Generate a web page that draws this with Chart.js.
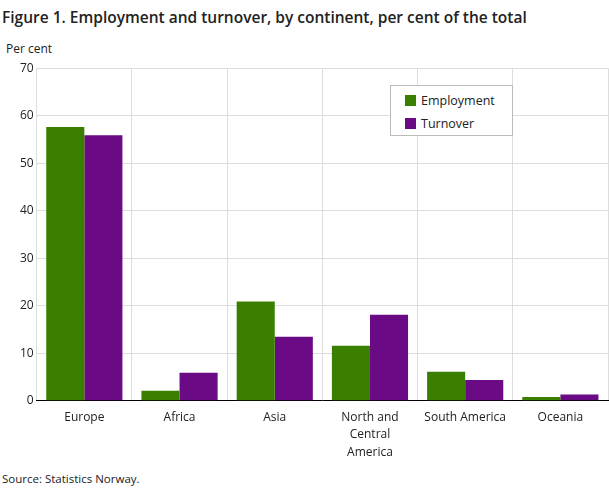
<!DOCTYPE html>
<html><head><meta charset="utf-8">
<script src="https://cdn.jsdelivr.net/npm/chart.js@4"></script>
<style>
body{margin:0;font-family:"Open Sans",sans-serif;background:#fff;width:609px;height:489px;position:relative;overflow:hidden}
#title{position:absolute;left:2px;top:6px;font-size:15.5px;color:#222;font-weight:600}
#unit{position:absolute;left:6px;top:40px;font-size:12px;color:#222}
#source{position:absolute;left:2px;top:471px;font-size:11.5px;color:#222}
#wrap{position:absolute;left:0;top:58px;width:609px;height:411px}
#legend{position:absolute;left:390px;top:85px;width:121px;height:49px;border:1px solid #bbb;background:#fff;font-size:12.5px;color:#222}
.li{position:absolute;left:14px;display:flex;align-items:center}
.sw{width:11px;height:11px;margin-right:5px;display:inline-block}
</style></head><body>
<div id="title">Figure 1. Employment and turnover, by continent, per cent of the total</div>
<div id="unit">Per cent</div>
<div id="wrap"><canvas id="c"></canvas></div>
<div id="legend">
 <div class="li" style="top:6px"><span class="sw" style="background:#3a7f00"></span>Employment</div>
 <div class="li" style="top:29px"><span class="sw" style="background:#6b0a85"></span>Turnover</div>
</div>
<div id="source">Source: Statistics Norway.</div>
<script>
const categories = ['Europe', 'Africa', 'Asia', ['North and', 'Central', 'America'], 'South America', 'Oceania'];
const employment = [57.6, 2.1, 20.9, 11.6, 6.1, 0.8];
const turnover = [55.9, 5.9, 13.5, 18.1, 4.4, 1.3];

new Chart(document.getElementById('c'), {
    type: 'bar',
    data: {
        labels: categories,
        datasets: [{
            label: 'Employment',
            data: employment,
            backgroundColor: '#3a7f00'
        }, {
            label: 'Turnover',
            data: turnover,
            backgroundColor: '#6b0a85'
        }]
    },
    options: {
        responsive: true,
        maintainAspectRatio: false,
        animation: false,
        layout: { padding: { left: 17, right: 1, top: 4 } },
        datasets: { bar: { categoryPercentage: 0.8, barPercentage: 1 } },
        plugins: { legend: { display: false }, tooltip: { enabled: false } },
        scales: {
            y: {
                min: 0, max: 70,
                ticks: { stepSize: 10, color: '#222', font: { family: 'Open Sans', size: 12 } },
                grid: { color: '#ddd', drawTicks: false },
                border: { display: false }
            },
            x: {
                ticks: { color: '#222', padding: 8, font: { family: 'Open Sans', size: 12, lineHeight: 1.45 }, maxRotation: 0, autoSkip: false },
                grid: { color: '#ddd', offset: true, drawTicks: false },
                border: { color: '#000' }
            }
        }
    }
});
</script>
</body></html>
